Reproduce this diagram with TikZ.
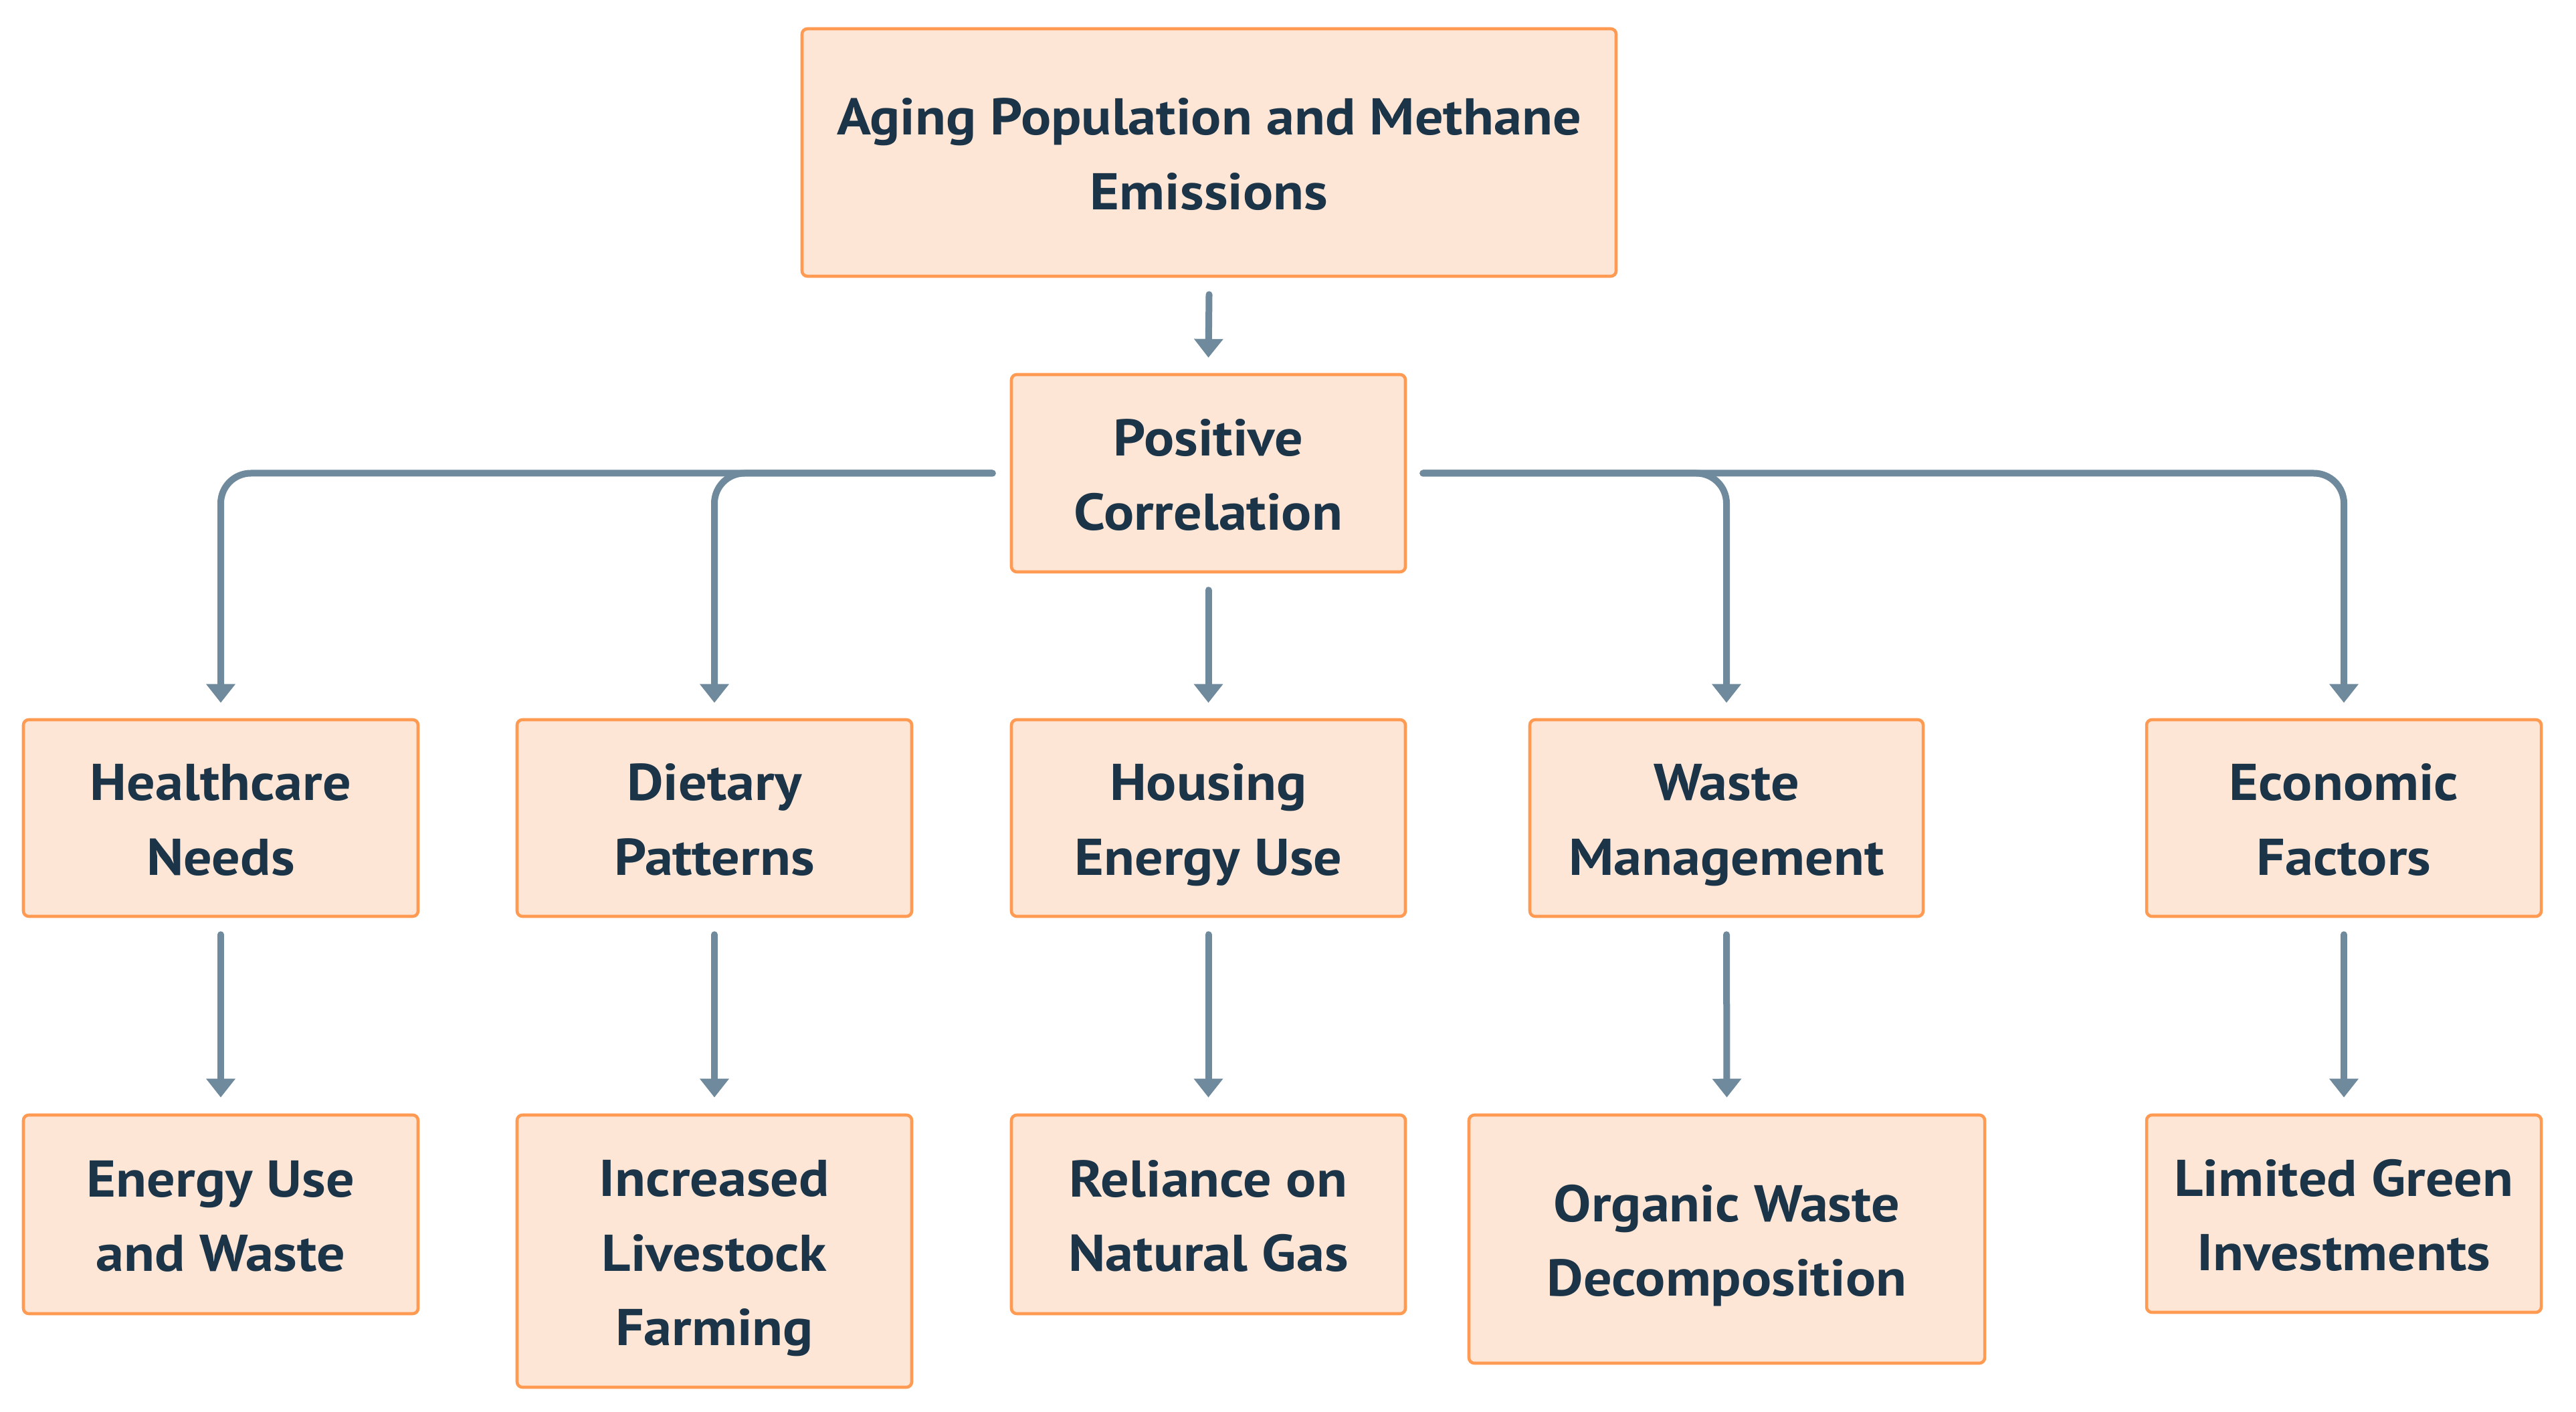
\documentclass[tikz,border=0pt]{standalone}
\usepackage{fontspec}
\setmainfont{PT Sans}[FakeStretch=1.09]
\usetikzlibrary{arrows.meta}
\definecolor{boxfill}{HTML}{FEE6D7}
\definecolor{boxline}{HTML}{FF9A52}
\definecolor{txt}{HTML}{1B3447}
\definecolor{conncol}{HTML}{6F8A9C}
\newcommand\mytopstrut{\rule{0pt}{24.3pt}}
\newcommand\mybotstrut{\rule[-7.5pt]{0pt}{7.5pt}}
\tikzset{
  box/.style={draw=boxline, fill=boxfill, line width=1.3pt, rounded corners=0.08cm,
    inner sep=0pt, align=center, text=txt,
    font=\fontsize{22}{31.8}\selectfont\bfseries},
  conn/.style={draw=conncol, line width=0.1cm, line cap=round,
    -{Triangle[width=0.42cm,length=0.28cm]}},
  elbow/.style={conn, rounded corners=0.45cm}
}
\begin{document}
\begin{tikzpicture}[x=1cm,y=1cm]
\useasboundingbox (0,0) rectangle (38.51,-21.11);
% row 0 / 1
\node[box, minimum width=12.17cm, minimum height=3.70cm] (top) at (18.075,-2.28) {\mytopstrut Aging Population and Methane\\Emissions\mybotstrut};
\node[box, minimum width=5.89cm, minimum height=2.95cm] (pos) at (18.065,-7.075) {\mytopstrut Positive\\Correlation\mybotstrut};
% row 2
\node[box, minimum width=5.90cm, minimum height=2.94cm] (hc) at (3.30,-12.23) {\mytopstrut Healthcare\\Needs\mybotstrut};
\node[box, minimum width=5.90cm, minimum height=2.94cm] (diet) at (10.68,-12.23) {\mytopstrut Dietary\\Patterns\mybotstrut};
\node[box, minimum width=5.89cm, minimum height=2.94cm] (house) at (18.065,-12.23) {\mytopstrut Housing\\Energy Use\mybotstrut};
\node[box, minimum width=5.88cm, minimum height=2.94cm] (waste) at (25.81,-12.23) {\mytopstrut Waste\\Management\mybotstrut};
\node[box, minimum width=5.90cm, minimum height=2.94cm] (econ) at (35.04,-12.23) {\mytopstrut Economic\\Factors\mybotstrut};
% row 3
\node[box, minimum width=5.90cm, minimum height=2.97cm] (energy) at (3.30,-18.155) {\mytopstrut Energy Use\\and Waste\mybotstrut};
\node[box, minimum width=5.90cm, minimum height=4.07cm] (incr) at (10.68,-18.705) {\mytopstrut Increased\\Livestock\\Farming\mybotstrut};
\node[box, minimum width=5.89cm, minimum height=2.97cm] (rel) at (18.065,-18.155) {\mytopstrut Reliance on\\Natural Gas\mybotstrut};
\node[box, minimum width=7.71cm, minimum height=3.71cm] (org) at (25.815,-18.525) {\mytopstrut Organic Waste\\Decomposition\mybotstrut};
\node[box, minimum width=5.90cm, minimum height=2.95cm] (lim) at (35.04,-18.145) {\mytopstrut Limited Green\\Investments\mybotstrut};
% connectors
\draw[conn] ([yshift=-0.25cm]top.south) -- ([yshift=0.23cm]pos.north);
\draw[conn] ([yshift=-0.25cm]pos.south) -- ([yshift=0.23cm]house.north);
\draw[elbow] ([xshift=-0.26cm]pos.west) -| ([yshift=0.23cm]hc.north);
\draw[elbow] ([xshift=-0.26cm]pos.west) -| ([yshift=0.23cm]diet.north);
\draw[elbow] ([xshift=0.24cm]pos.east) -| ([yshift=0.23cm]waste.north);
\draw[elbow] ([xshift=0.24cm]pos.east) -| ([yshift=0.23cm]econ.north);
\draw[conn] ([yshift=-0.25cm]hc.south) -- ([yshift=0.24cm]energy.north);
\draw[conn] ([yshift=-0.25cm]diet.south) -- ([yshift=0.24cm]incr.north);
\draw[conn] ([yshift=-0.25cm]house.south) -- ([yshift=0.24cm]rel.north);
\draw[conn] ([yshift=-0.25cm]waste.south) -- ([yshift=0.24cm]org.north);
\draw[conn] ([yshift=-0.25cm]econ.south) -- ([yshift=0.24cm]lim.north);
\end{tikzpicture}
\end{document}
